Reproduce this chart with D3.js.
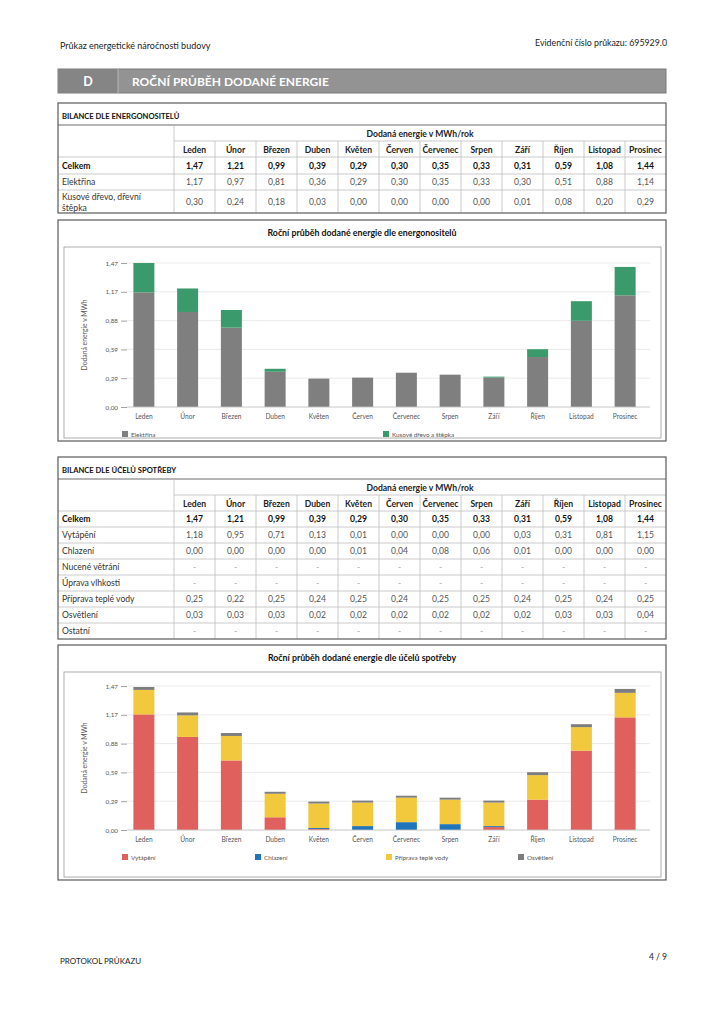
<!DOCTYPE html>
<html><head><meta charset="utf-8">
<script src="https://cdn.jsdelivr.net/npm/d3@7"></script>
<style>
html,body{margin:0;padding:0;background:#fff;}
svg{display:block;font-family:Lato,"Open Sans",sans-serif;}
</style></head>
<body>
<svg id="page" width="724" height="1024"></svg>
<script>
// ---------- DATA ----------
const months = ["Leden","Únor","Březen","Duben","Květen","Červen","Červenec","Srpen","Září","Říjen","Listopad","Prosinec"];
const celkem = [1.47,1.21,0.99,0.39,0.29,0.30,0.35,0.33,0.31,0.59,1.08,1.44];
const elektrina = [1.17,0.97,0.81,0.36,0.29,0.30,0.35,0.33,0.30,0.51,0.88,1.14];
const drevo = [0.30,0.24,0.18,0.03,0.00,0.00,0.00,0.00,0.01,0.08,0.20,0.29];
const vytapeni = [1.18,0.95,0.71,0.13,0.01,0.00,0.00,0.00,0.03,0.31,0.81,1.15];
const chlazeni = [0.00,0.00,0.00,0.00,0.01,0.04,0.08,0.06,0.01,0.00,0.00,0.00];
const nuceneVetrani = null;
const upravaVlhkosti = null;
const teplaVoda = [0.25,0.22,0.25,0.24,0.25,0.24,0.25,0.25,0.24,0.25,0.24,0.25];
const osvetleni = [0.03,0.03,0.03,0.02,0.02,0.02,0.02,0.02,0.02,0.03,0.03,0.04];
const ostatni = null;
const yTickValues = [0, 0.294, 0.588, 0.882, 1.176, 1.47];
const yTickLabels = ["0,00","0,29","0,59","0,88","1,17","1,47"];

// ---------- HELPERS ----------
const svg = d3.select("#page");
const fmt = v => d3.format(".2f")(v).replace(".", ",");
const FONT = 'Lato,"Open Sans",sans-serif';

function text(x, y, s, o = {}) {
  return svg.append("text").attr("x", x).attr("y", y).text(s)
    .attr("font-size", o.size || 8).attr("fill", o.fill || "#222")
    .attr("font-weight", o.bold ? "bold" : "normal")
    .attr("text-anchor", o.anchor || "start")
    .attr("dominant-baseline", "central");
}
function line(x1, y1, x2, y2, c = "#bdbdbd", w = 0.8) {
  svg.append("line").attr("x1", x1).attr("y1", y1).attr("x2", x2).attr("y2", y2)
    .attr("stroke", c).attr("stroke-width", w);
}
function box(x, y, w, h, c = "#5a5a5a", sw = 1.2) {
  svg.append("rect").attr("x", x).attr("y", y).attr("width", w).attr("height", h)
    .attr("fill", "none").attr("stroke", c).attr("stroke-width", sw);
}

// ---------- PAGE HEADER ----------
text(60, 45, "Průkaz energetické náročnosti budovy", {size: 9});
text(667, 42, "Evidenční číslo průkazu: 695929.0", {size: 8.8, anchor: "end"});

// banner
svg.append("rect").attr("x", 58).attr("y", 69).attr("width", 608).attr("height", 24)
  .attr("fill", "#939393").attr("stroke", "#7a7a7a").attr("stroke-width", 1);
svg.append("rect").attr("x", 58).attr("y", 69).attr("width", 60).attr("height", 24).attr("fill", "#858585");
line(118, 69, 118, 93, "#b5b5b5", 1);
text(88, 81.5, "D", {size: 12.5, bold: true, fill: "#fff", anchor: "middle"});
text(132, 81.5, "ROČNÍ PRŮBĚH DODANÉ ENERGIE", {size: 12, bold: true, fill: "#fff"});

// ---------- TABLES ----------
const colX = d3.scaleBand().domain(months).range([174, 666]);
const TF = 8.6;

function drawTable(top, title, rows, bottom) {
  const titleBottom = top + 22;
  text(62, top + 13, title, {size: 7.6, bold: true, fill: "#111"});
  line(58, titleBottom, 666, titleBottom, "#6a6a6a", 1);
  const h1 = titleBottom + 16;
  const h2 = h1 + 16;
  text(420, titleBottom + 8.5, "Dodaná energie v MWh/rok", {size: TF, bold: true, anchor: "middle"});
  line(174, h1, 666, h1);
  line(174, titleBottom, 174, bottom);
  months.forEach((m, i) => {
    const x = colX(m);
    if (i > 0) line(x, h1, x, bottom);
    text(x + colX.bandwidth() / 2, h1 + 8.5, m, {size: TF, bold: true, anchor: "middle"});
  });
  line(58, h2, 666, h2);
  let y = h2;
  rows.forEach((r, ri) => {
    const cy = y + r.h / 2;
    if (r.label2) {
      text(62, cy - 5, r.label, {size: TF, fill: "#333"});
      text(62, cy + 6, r.label2, {size: TF, fill: "#333"});
    } else {
      text(62, cy, r.label, {size: TF, bold: r.bold, fill: r.bold ? "#111" : "#333"});
    }
    months.forEach((m, i) => {
      const v = r.values ? fmt(r.values[i]) : "-";
      text(colX(m) + colX.bandwidth() / 2, cy, v,
        {size: TF, bold: r.bold, anchor: "middle", fill: r.values ? (r.bold ? "#111" : "#555") : "#aaa"});
    });
    y += r.h;
    if (ri < rows.length - 1) line(58, y, 666, y);
  });
  box(58, top, 608, bottom - top);
}

drawTable(103, "BILANCE DLE ENERGONOSITELŮ", [
  {label: "Celkem", values: celkem, bold: true, h: 17},
  {label: "Elektřina", values: elektrina, h: 16},
  {label: "Kusové dřevo, dřevní", label2: "štěpka", values: drevo, h: 23}
], 213);

drawTable(457, "BILANCE DLE ÚČELŮ SPOTŘEBY", [
  {label: "Celkem", values: celkem, bold: true, h: 16},
  {label: "Vytápění", values: vytapeni, h: 16},
  {label: "Chlazení", values: chlazeni, h: 16},
  {label: "Nucené větrání", values: nuceneVetrani, h: 16},
  {label: "Úprava vlhkosti", values: upravaVlhkosti, h: 16},
  {label: "Příprava teplé vody", values: teplaVoda, h: 16},
  {label: "Osvětlení", values: osvetleni, h: 16},
  {label: "Ostatní", values: ostatni, h: 16}
], 639);

// ---------- CHARTS ----------
function drawChart(cfg) {
  const {top, bottom, title, y0, y1, series, legendY, legendX} = cfg;
  box(58, top, 608, bottom - top);
  text(362, top + 12, title, {size: 8.8, bold: true, anchor: "middle", fill: "#111"});
  box(64, top + 27, 597, bottom - top - 30, "#9a9a9a", 0.8);

  const x = d3.scaleBand().domain(months).range([122, 647]).paddingInner(0.52).paddingOuter(0.26);
  const y = d3.scaleLinear().domain([0, 1.47]).range([y0, y1]);
  const g = svg.append("g");

  g.append("g").selectAll("line").data(yTickValues).join("line")
    .attr("x1", 127).attr("x2", 650)
    .attr("y1", d => y(d)).attr("y2", d => y(d))
    .attr("stroke", "#e4e4e4").attr("stroke-width", 0.8);

  const ax = g.append("g").attr("transform", "translate(127,0)")
    .call(d3.axisLeft(y).tickValues(yTickValues).tickSize(6).tickPadding(3)
      .tickFormat((d, i) => yTickLabels[i]));
  ax.select(".domain").remove();
  ax.selectAll(".tick line").attr("stroke", "#8a8a8a").attr("stroke-width", 0.8);
  ax.selectAll(".tick text").attr("font-size", 6.3).attr("fill", "#555").attr("font-family", FONT);

  g.append("text").attr("transform", `translate(84,${(y0 + y1) / 2}) rotate(-90)`)
    .attr("text-anchor", "middle").attr("dominant-baseline", "central")
    .attr("font-size", 6.8).attr("fill", "#555").text("Dodaná energie v MWh");

  const rows = months.map((m, i) => {
    const o = {month: m};
    series.forEach(s => o[s.key] = s.values[i]);
    return o;
  });
  const stack = d3.stack().keys(series.map(s => s.key))(rows);
  stack.forEach((layer, li) => {
    g.append("g").attr("fill", series[li].color).selectAll("rect").data(layer).join("rect")
      .attr("x", d => x(d.data.month)).attr("width", x.bandwidth())
      .attr("y", d => y(d[1])).attr("height", d => Math.max(0, y(d[0]) - y(d[1])));
  });

  g.append("line").attr("x1", 127).attr("x2", 650).attr("y1", y(0)).attr("y2", y(0))
    .attr("stroke", "#c8c8c8").attr("stroke-width", 0.8);

  const xa = g.append("g").attr("transform", `translate(0,${y0})`)
    .call(d3.axisBottom(x).tickSize(0).tickPadding(7));
  xa.select(".domain").remove();
  xa.selectAll(".tick text").attr("font-size", 6.6).attr("fill", "#555").attr("font-family", FONT);

  series.forEach((s, i) => {
    const lx = legendX[i];
    g.append("rect").attr("x", lx).attr("y", legendY - 3).attr("width", 6).attr("height", 6).attr("fill", s.color);
    g.append("text").attr("x", lx + 9).attr("y", legendY).attr("dominant-baseline", "central")
      .attr("font-size", 6.3).attr("fill", "#555").text(s.label);
  });
}

drawChart({
  top: 220, bottom: 441,
  title: "Roční průběh dodané energie dle energonositelů",
  y0: 407, y1: 263,
  series: [
    {key: "el", label: "Elektřina", values: elektrina, color: "#7f7f7f"},
    {key: "dr", label: "Kusové dřevo a štěpka", values: drevo, color: "#3a9a6c"}
  ],
  legendY: 434, legendX: [122, 383]
});

drawChart({
  top: 645, bottom: 880,
  title: "Roční průběh dodané energie dle účelů spotřeby",
  y0: 830, y1: 686,
  series: [
    {key: "vyt", label: "Vytápění", values: vytapeni, color: "#e0605e"},
    {key: "chl", label: "Chlazení", values: chlazeni, color: "#1f74ba"},
    {key: "tv", label: "Příprava teplé vody", values: teplaVoda, color: "#f2c83c"},
    {key: "osv", label: "Osvětlení", values: osvetleni, color: "#7d7d7d"}
  ],
  legendY: 857, legendX: [122, 255, 386, 518]
});

// ---------- FOOTER ----------
text(60, 961, "PROTOKOL PRŮKAZU", {size: 8});
text(667, 957, "4 / 9", {size: 8.5, anchor: "end"});
</script>
</body></html>
